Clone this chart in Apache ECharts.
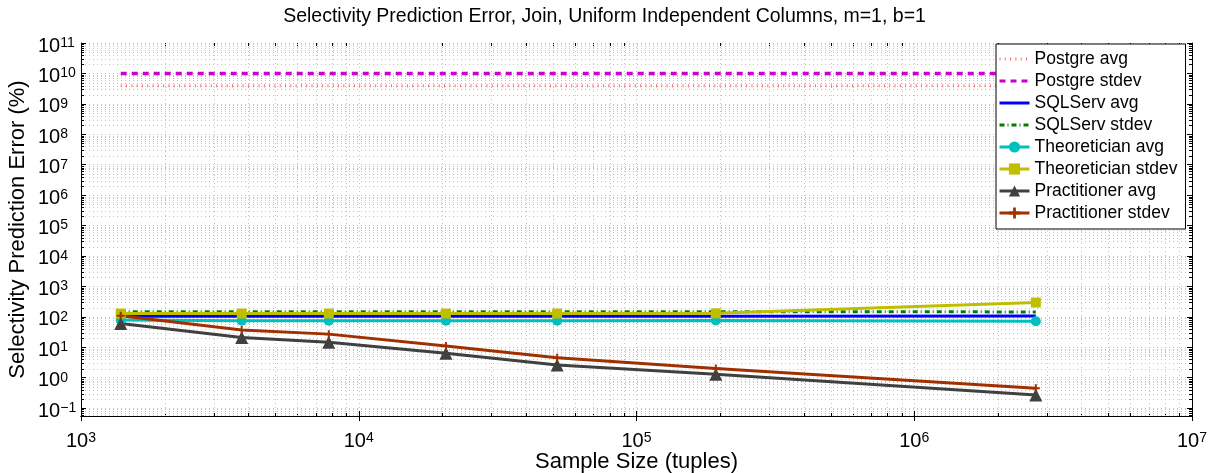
<!DOCTYPE html>
<html lang="en">
<head>
  <meta charset="UTF-8">
  <script src="https://cdn.jsdelivr.net/npm/echarts@6/dist/echarts.min.js"></script>
  <title>Selectivity Prediction Error</title>
  <style>
    html, body, #main { width: 100%; height: 100%; margin: 0; padding: 0; background: #fff; }
  </style>
</head>
<body>
  <div id="main"></div>
<script>
  // sample sizes (tuples) and the % errors
  const sampleSizes = [1390, 3790, 7800, 20600, 51800, 193000, 2740000]
  const postgreAvg = [3.9e9, 3.9e9, 3.9e9, 3.9e9, 3.9e9, 3.9e9, 3.9e9]
  const postgreStdev = [1e10, 1e10, 1e10, 1e10, 1e10, 1e10, 1e10]
  const sqlservAvg = [104, 104, 104, 104, 104, 104, 106]
  const sqlservStdev = [148, 148, 148, 148, 148, 148, 145]
  const theoAvg = [78, 75, 75, 75, 75, 76, 72]
  const theoStdev = [128, 128, 128, 128, 128, 130, 295]
  const pracAvg = [60, 21, 14.6, 6.3, 2.6, 1.29, 0.27]
  const pracStdev = [108, 37, 27, 11, 4.5, 2.0, 0.45]

  const xMin = 1e3, xMax = 1e7
  // the box runs a little below 10^-1; the data grid spans exactly 10^-1..10^11
  const yBoxMin = 0.055, yMin = 0.1, yMax = 1e11
  const yExpMin = -1, yExpMax = 11

  const font = 'Liberation Sans, Arial, Helvetica, sans-serif'
  const gridColor = '#c4c4c4'

  const plotTop = 43, plotBottom = 57, plotLeft = 81, plotRight = 17
  const decade = (473 - plotTop - plotBottom) / (Math.log10(yMax) - Math.log10(yBoxMin))
  const dataGridBottom = plotBottom + (Math.log10(yMin) - Math.log10(yBoxMin)) * decade

  // minor grid positions (2..9 x 10^n) for the log axes
  const minorX = []
  for (let e = 3; e < 7; e++) for (let m = 2; m <= 9; m++) minorX.push([m * Math.pow(10, e), 0.5])
  const minorY = []
  for (let e = -2; e < 11; e++) for (let m = 2; m <= 9; m++) {
    const v = m * Math.pow(10, e)
    if (v > yBoxMin && v < yMax) minorY.push([1e4, v])
  }

  function expLabel(n) {
    return '{b|10}{s|' + (n < 0 ? '\u2212' + (-n) : n) + '}'
  }
  const labelRich = {
    b: { fontSize: 20, fontFamily: font, color: '#000', lineHeight: 20, verticalAlign: 'bottom' },
    s: { fontSize: 14, fontFamily: font, color: '#000', lineHeight: 14, verticalAlign: 'top', padding: [0, 0, 12, 0] }
  }
  const gridDots = { stroke: gridColor, lineWidth: 1, lineDash: [1, 3], fill: null }
  const tickStyle = { stroke: '#000', lineWidth: 1, fill: null }

  function line(name, data, color, width, type, symbol, size) {
    return {
      type: 'line',
      name: name,
      data: sampleSizes.map((x, i) => [x, data[i]]),
      xAxisIndex: 2,
      yAxisIndex: 2,
      symbol: symbol || 'none',
      showSymbol: !!symbol,
      symbolSize: size || 0,
      itemStyle: { color: color, borderWidth: 0 },
      lineStyle: { color: color, width: width, type: type || 'solid' },
      z: 3,
      animation: false
    }
  }

  const plusPath = 'path://M3,0H5V3H8V5H5V8H3V5H0V3H3Z'
  const noMark = { color: 'rgba(0,0,0,0)', borderWidth: 0 }

  const option = {
    animation: false,
    title: {
      text: 'Selectivity Prediction Error, Join, Uniform Independent Columns, m=1, b=1',
      left: 'center',
      top: 2,
      textStyle: { fontSize: 19.5, fontWeight: 'normal', fontFamily: font, color: '#000' }
    },
    grid: [
      { left: plotLeft, right: plotRight, top: plotTop, bottom: plotBottom, containLabel: false, outerBoundsMode: 'none' },
      { left: plotLeft, right: plotRight, top: plotTop, bottom: dataGridBottom, containLabel: false, outerBoundsMode: 'none' }
    ],
    legend: {
      left: 996,
      top: 44,
      orient: 'vertical',
      backgroundColor: '#fff',
      borderColor: '#000',
      borderWidth: 1,
      borderRadius: 0,
      padding: [6, 8, 7, 2],
      itemWidth: 30,
      itemHeight: 14,
      itemGap: 4,
      lineStyle: { width: 3 },
      textStyle: { fontSize: 17.5, fontFamily: font, color: '#000', lineHeight: 18 },
      data: [
        { name: 'Postgre avg', itemStyle: noMark },
        { name: 'Postgre stdev', itemStyle: noMark },
        { name: 'SQLServ avg', itemStyle: noMark },
        { name: 'SQLServ stdev', itemStyle: noMark },
        'Theoretician avg',
        'Theoretician stdev',
        'Practitioner avg',
        'Practitioner stdev'
      ],
      z: 10
    },
    xAxis: [
      {
        type: 'log',
        gridIndex: 0,
        position: 'bottom',
        min: xMin,
        max: xMax,
        name: 'Sample Size (tuples)',
        nameLocation: 'middle',
        nameGap: 35,
        nameMoveOverlap: false,
        nameTextStyle: { fontSize: 22, fontFamily: font, color: '#000' },
        axisLine: { lineStyle: { color: '#000', width: 1 } },
        axisTick: { inside: true, length: 5, interval: 0, lineStyle: { color: '#000' } },
        axisLabel: {
          formatter: (v) => expLabel(Math.round(Math.log10(v))),
          rich: labelRich, margin: 15, interval: 0, hideOverlap: false
        },
        splitLine: { show: true, interval: 0, lineStyle: { color: gridColor, type: [1, 3] } }
      },
      {
        type: 'log',
        gridIndex: 0,
        position: 'top',
        min: xMin,
        max: xMax,
        axisLine: { lineStyle: { color: '#000', width: 1 } },
        axisTick: { inside: true, length: 5, interval: 0, lineStyle: { color: '#000' } },
        axisLabel: { show: false },
        splitLine: { show: false }
      },
      { type: 'log', gridIndex: 1, position: 'bottom', min: xMin, max: xMax, show: false }
    ],
    yAxis: [
      {
        // box frame on the left, carries the axis name
        type: 'value',
        gridIndex: 0,
        position: 'left',
        min: 0,
        max: 1,
        name: 'Selectivity Prediction Error (%)',
        nameLocation: 'middle',
        nameGap: 52,
        nameMoveOverlap: false,
        nameTextStyle: { fontSize: 22, fontFamily: font, color: '#000' },
        axisLine: { show: true, lineStyle: { color: '#000', width: 1 } },
        axisTick: { show: false },
        axisLabel: { show: false },
        splitLine: { show: false }
      },
      {
        type: 'value',
        gridIndex: 0,
        position: 'right',
        min: 0,
        max: 1,
        axisLine: { show: true, lineStyle: { color: '#000', width: 1 } },
        axisTick: { show: false },
        axisLabel: { show: false },
        splitLine: { show: false }
      },
      // log axis the data is drawn on
      { type: 'log', gridIndex: 1, position: 'left', min: yMin, max: yMax, show: false },
      {
        // decade exponent axis: ticks, labels and major grid for the log y axis
        type: 'value',
        gridIndex: 1,
        position: 'left',
        min: yExpMin,
        max: yExpMax,
        interval: 1,
        axisLine: { show: false },
        axisTick: { show: true, inside: true, length: 5, lineStyle: { color: '#000' } },
        axisLabel: {
          formatter: (n) => expLabel(n),
          rich: labelRich, margin: 43, align: 'left', padding: [6, 0, 0, 0], hideOverlap: false
        },
        splitLine: { show: true, lineStyle: { color: gridColor, type: [1, 3] } }
      },
      {
        type: 'value',
        gridIndex: 1,
        position: 'right',
        min: yExpMin,
        max: yExpMax,
        interval: 1,
        axisLine: { show: false },
        axisTick: { show: true, inside: true, length: 5, lineStyle: { color: '#000' } },
        axisLabel: { show: false },
        splitLine: { show: false }
      }
    ],
    series: [
      {
        type: 'custom',
        silent: true,
        z: 1,
        xAxisIndex: 0,
        yAxisIndex: 0,
        data: minorX,
        renderItem: (params, api) => {
          const cs = params.coordSys
          const x = Math.round(api.coord([api.value(0), api.value(1)])[0]) + 0.5
          const b = cs.y + cs.height
          return {
            type: 'group', children: [
              { type: 'line', shape: { x1: x, y1: cs.y, x2: x, y2: b }, style: gridDots },
              { type: 'line', shape: { x1: x, y1: b, x2: x, y2: b - 3 }, style: tickStyle },
              { type: 'line', shape: { x1: x, y1: cs.y, x2: x, y2: cs.y + 3 }, style: tickStyle }
            ]
          }
        }
      },
      {
        type: 'custom',
        silent: true,
        clip: false,
        z: 1,
        xAxisIndex: 2,
        yAxisIndex: 2,
        data: minorY,
        renderItem: (params, api) => {
          const cs = params.coordSys
          const y = Math.round(api.coord([api.value(0), api.value(1)])[1]) + 0.5
          const r = cs.x + cs.width
          return {
            type: 'group', children: [
              { type: 'line', shape: { x1: cs.x, y1: y, x2: r, y2: y }, style: gridDots },
              { type: 'line', shape: { x1: cs.x, y1: y, x2: cs.x + 3, y2: y }, style: tickStyle },
              { type: 'line', shape: { x1: r, y1: y, x2: r - 3, y2: y }, style: tickStyle }
            ]
          }
        }
      },
      line('Postgre avg', postgreAvg, '#ff6a6a', 3, [1, 4.3]),
      line('Postgre stdev', postgreStdev, '#cc00cc', 3.5, [6, 5]),
      line('SQLServ avg', sqlservAvg, '#0000ff', 3, 'solid'),
      line('SQLServ stdev', sqlservStdev, '#008000', 3, [5, 3, 1, 3]),
      line('Theoretician avg', theoAvg, '#00bfbf', 3, 'solid', 'circle', 10),
      line('Theoretician stdev', theoStdev, '#bfbf00', 3, 'solid', 'rect', 10),
      line('Practitioner avg', pracAvg, '#404040', 3, 'solid', 'triangle', 13),
      line('Practitioner stdev', pracStdev, '#a03000', 3, 'solid', plusPath, 8)
    ]
  }

  const chart = echarts.init(document.getElementById('main'), null, { renderer: 'canvas' })
  chart.setOption(option)
</script>
</body>
</html>
